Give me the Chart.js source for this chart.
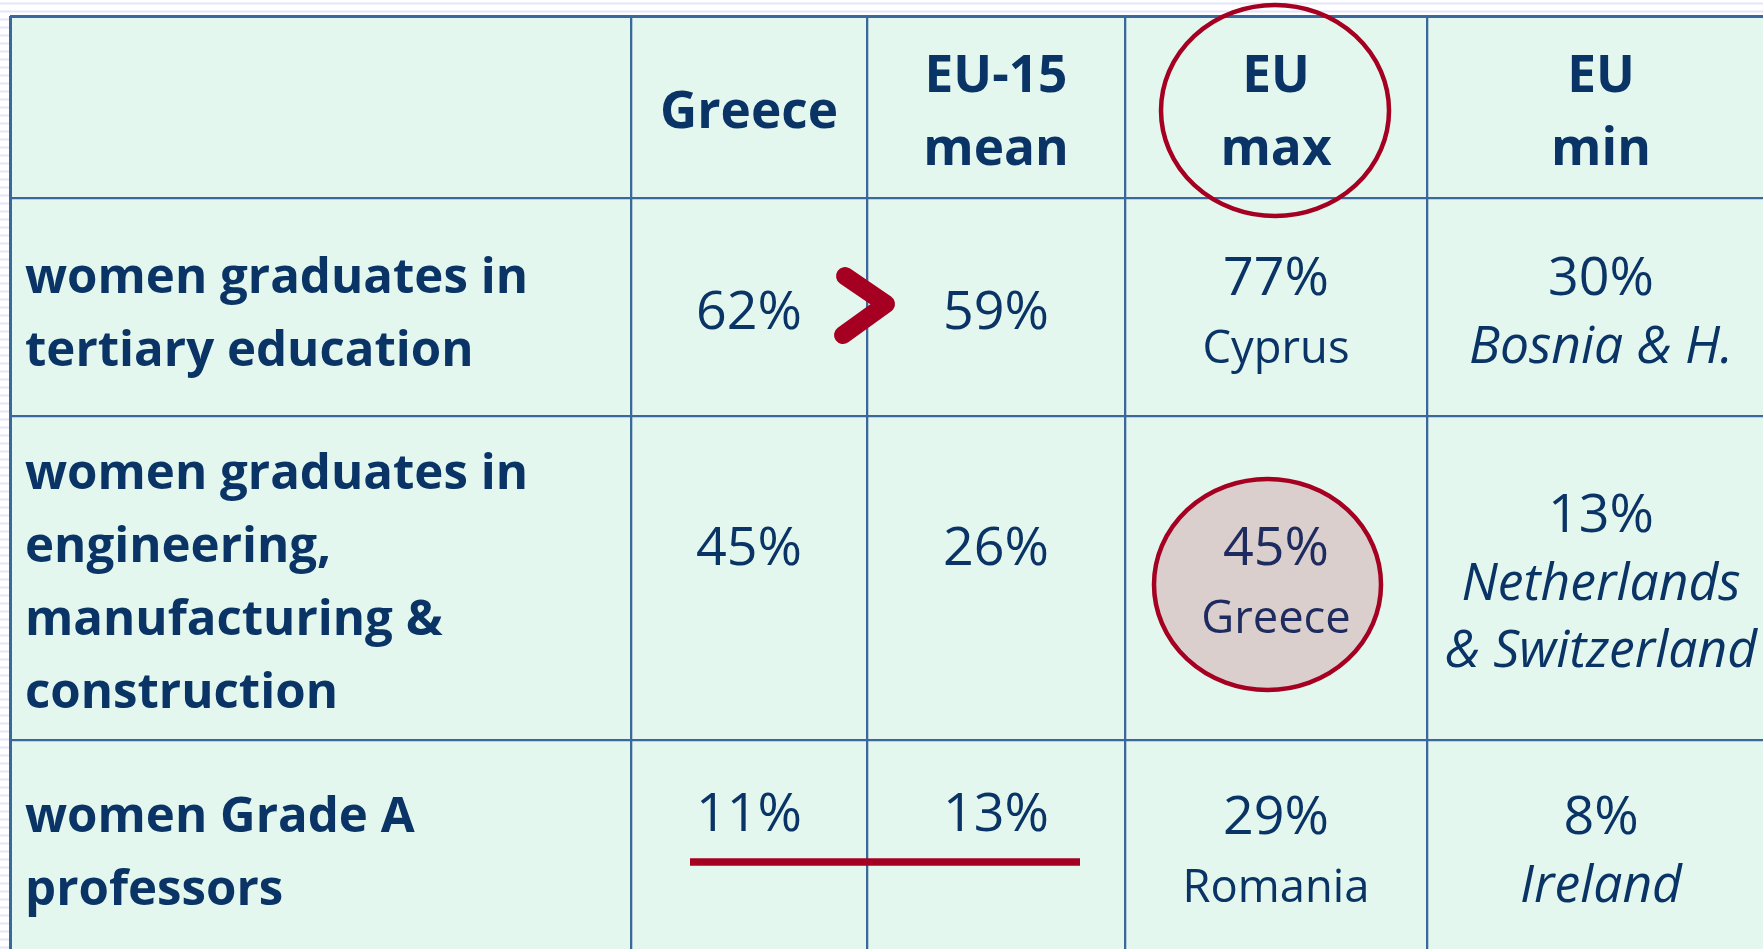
<!DOCTYPE html>
<html>
<head>
<meta charset="utf-8">
<script src="https://cdn.jsdelivr.net/npm/chart.js@4"></script>
<style>
html,body{margin:0;padding:0;background:#fff;overflow:hidden}
#wrap{width:1763px;height:949px;position:relative}
</style>
</head>
<body>
<div id="wrap"><canvas id="c" width="1763" height="949"></canvas></div>
<script>
// ---------------- DATA ----------------
const headerLines = [['Greece'], ['EU-15', 'mean'], ['EU', 'max'], ['EU', 'min']];
const indicators = [
  ['women graduates in', 'tertiary education'],
  ['women graduates in', 'engineering,', 'manufacturing &', 'construction'],
  ['women Grade A', 'professors']
];
const greeceValues   = [62, 45, 11];
const eu15MeanValues = [59, 26, 13];
const euMaxValues    = [77, 45, 29];
const euMaxCountries = [['Cyprus'], ['Greece'], ['Romania']];
const euMinValues    = [30, 13, 8];
const euMinCountries = [['Bosnia & H.'], ['Netherlands', '& Switzerland'], ['Ireland']];

// ---------------- LAYOUT (table units) ----------------
const colEdges = [0, 621, 857, 1115, 1417, 1765];
const rowEdges = [0, 182, 400, 724, 945];
const tableW = 1753, tableH = 933;

const labelFirst = [95, 73, 92];       // first baseline of row labels, from row top
const labelStep = 73;
const headerFirst = {1: 112, 2: 76};   // by number of lines
const headerStep = 73;
const cellFirst = [                    // by number of lines, from row top
  {1: 131, 2: 97},
  {1: 149, 2: 149, 3: 116},
  {1: 91, 2: 94}
];
const cellStep = 67.5;

const ink = '#0A3466', ink2 = '#1E2B5E', red = '#A50021';
const gridColor = '#3A689C', tableFill = '#E4F7EE', paperLine = '#E3E6F7';

const valueColumns = [
  {label: 'Greece',     values: greeceValues,   notes: null,           italic: false},
  {label: 'EU-15 mean', values: eu15MeanValues, notes: null,           italic: false},
  {label: 'EU max',     values: euMaxValues,    notes: euMaxCountries, italic: false},
  {label: 'EU min',     values: euMinValues,    notes: euMinCountries, italic: true}
];

const colCenter = c => (colEdges[c] + colEdges[c + 1]) / 2;
const rowCenter = r => (rowEdges[r] + rowEdges[r + 1]) / 2;

const FAM = '"Open Sans", "DejaVu Sans", sans-serif';
const fonts = {};
function fit(style, text, target) {
  const ctx = document.createElement('canvas').getContext('2d');
  ctx.font = style + ' 100px ' + FAM;
  const w = ctx.measureText(text).width;
  return style + ' ' + (100 * target / w).toFixed(2) + 'px ' + FAM;
}

function ellipse(ctx, cx, cy, rx, ry, fill, stroke, lw) {
  ctx.beginPath();
  ctx.ellipse(cx, cy, rx, ry, 0, 0, Math.PI * 2);
  if (fill) { ctx.fillStyle = fill; ctx.fill(); }
  ctx.lineWidth = lw; ctx.strokeStyle = stroke; ctx.stroke();
}

const tablePlugin = {
  id: 'tablePlugin',
  beforeDraw(chart) {
    const {ctx, scales: {x, y}} = chart;
    ctx.save();
    ctx.fillStyle = '#fff';
    ctx.fillRect(0, 0, chart.width, chart.height);
    ctx.strokeStyle = paperLine; ctx.lineWidth = 2;
    for (let yy = 3.5; yy < chart.height; yy += 8) {
      ctx.beginPath(); ctx.moveTo(0, yy); ctx.lineTo(chart.width, yy); ctx.stroke();
    }
    const x0 = x.getPixelForValue(0), y0 = y.getPixelForValue(0);
    ctx.fillStyle = tableFill;
    ctx.fillRect(x0, y0, chart.width - x0, chart.height - y0);
    ctx.restore();
  },
  afterDatasetsDraw(chart) {
    const {ctx, scales: {x, y}} = chart;
    const px = v => x.getPixelForValue(v), py = v => y.getPixelForValue(v);
    ctx.save();

    // highlight: EU max header, and EU max cell of row 2
    ellipse(ctx, px(colCenter(3) - 1), py(rowCenter(0) + 3.5), 114, 105.5, null, red, 4.5);
    ellipse(ctx, px(colCenter(3) - 8.5), py(rowCenter(2) + 6.5), 113.5, 105.5, '#DBCFCE', red, 4.5);

    // chevron ">" between Greece and EU-15 in row 1
    const bx = colEdges[2], by = rowCenter(1);
    ctx.beginPath();
    ctx.moveTo(px(bx - 22), py(by - 31));
    ctx.lineTo(px(bx + 19), py(by - 3));
    ctx.lineTo(px(bx - 24), py(by + 28));
    ctx.lineWidth = 18; ctx.lineCap = 'round'; ctx.lineJoin = 'round';
    ctx.strokeStyle = red; ctx.stroke();

    // underline Greece vs EU-15 in row 3
    ctx.beginPath();
    ctx.moveTo(px(colEdges[1] + 59), py(rowEdges[3] + 122));
    ctx.lineTo(px(colEdges[3] - 45), py(rowEdges[3] + 122));
    ctx.lineWidth = 7.5; ctx.lineCap = 'butt'; ctx.stroke();

    ctx.textBaseline = 'alphabetic';
    // headers
    ctx.fillStyle = ink; ctx.textAlign = 'center'; ctx.font = fonts.header;
    headerLines.forEach((lines, k) => {
      const first = headerFirst[lines.length];
      lines.forEach((t, j) => ctx.fillText(t, px(colCenter(k + 1)), py(rowEdges[0] + first + j * headerStep)));
    });
    // row labels
    ctx.textAlign = 'left'; ctx.font = fonts.label;
    indicators.forEach((lines, i) => {
      lines.forEach((t, j) => ctx.fillText(t, px(colEdges[0] + 15), py(rowEdges[i + 1] + labelFirst[i] + j * labelStep)));
    });
    // values, from dataset elements
    ctx.textAlign = 'center';
    chart.data.datasets.forEach((ds, k) => {
      const meta = chart.getDatasetMeta(k);
      const col = valueColumns[k];
      meta.data.forEach((el, i) => {
        const notes = col.notes ? col.notes[i] : [];
        const n = 1 + notes.length;
        const first = cellFirst[i][n];
        const highlighted = (k === 2 && i === 1);
        ctx.fillStyle = highlighted ? ink2 : ink;
        ctx.font = fonts.number;
        ctx.fillText(col.values[i] + '%', el.x, py(rowEdges[i + 1] + first));
        ctx.font = col.italic ? fonts.italic : fonts.note;
        notes.forEach((t, j) => ctx.fillText(t, el.x, py(rowEdges[i + 1] + first + (j + 1) * cellStep)));
      });
    });
    ctx.restore();
  }
};

function build() {
  fonts.label  = fit('bold', 'women graduates in', 503);
  fonts.header = fit('bold', 'Greece', 178);
  fonts.number = fit('normal', '62%', 106);
  fonts.note   = fit('normal', 'Cyprus', 147);
  fonts.italic = fit('italic', 'Netherlands', 279);

  new Chart(document.getElementById('c'), {
    type: 'scatter',
    data: {
      datasets: valueColumns.map((col, k) => ({
        label: col.label,
        data: col.values.map((v, i) => ({x: colCenter(k + 1), y: rowCenter(i + 1)})),
        pointRadius: 0,
        pointHoverRadius: 0
      }))
    },
    options: {
      responsive: false,
      animation: false,
      devicePixelRatio: 1,
      events: [],
      layout: {padding: {left: 10, top: 16, right: 0, bottom: 0}},
      plugins: {legend: {display: false}, tooltip: {enabled: false}, title: {display: false}},
      scales: {
        x: {
          type: 'linear', min: 0, max: tableW,
          ticks: {display: false},
          border: {display: false},
          grid: {color: gridColor, lineWidth: c => (c.index === 0 ? 3 : 2.3), drawTicks: false},
          afterBuildTicks: s => { s.ticks = colEdges.slice(0, 5).map(v => ({value: v})); }
        },
        y: {
          type: 'linear', min: 0, max: tableH, reverse: true,
          ticks: {display: false},
          border: {display: false},
          grid: {color: gridColor, lineWidth: c => (c.index === 0 ? 3 : 2.3), drawTicks: false},
          afterBuildTicks: s => { s.ticks = rowEdges.slice(0, 4).map(v => ({value: v})); }
        }
      }
    },
    plugins: [tablePlugin]
  });
}

if (document.fonts && document.fonts.load) {
  Promise.all([
    document.fonts.load('bold 50px "Open Sans"'),
    document.fonts.load('50px "Open Sans"'),
    document.fonts.load('italic 50px "Open Sans"')
  ]).then(build, build);
} else { build(); }
</script>
</body>
</html>
